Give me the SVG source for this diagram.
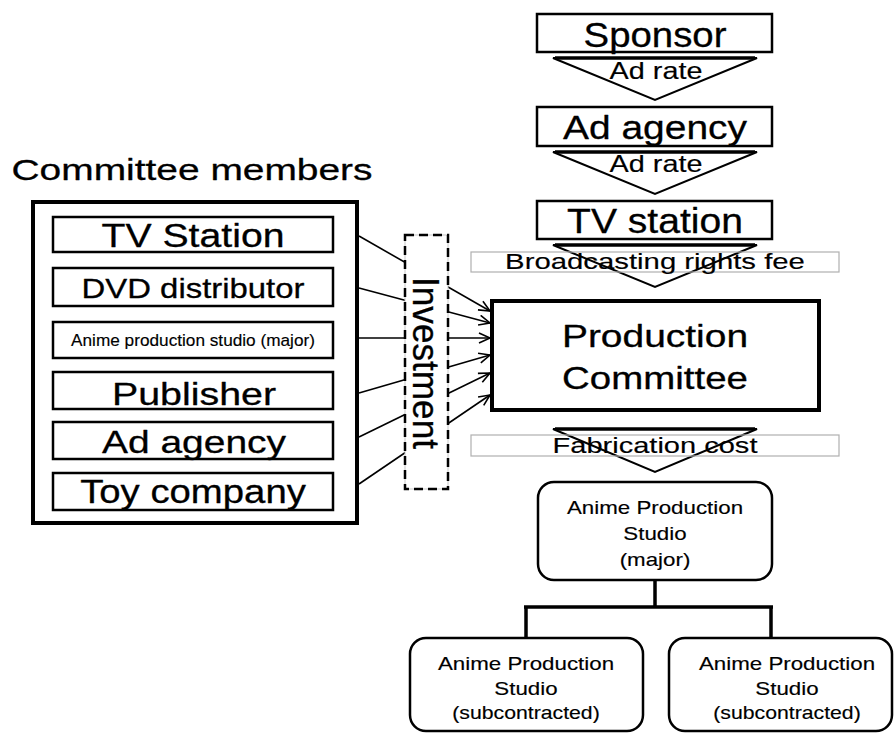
<svg xmlns="http://www.w3.org/2000/svg" width="894" height="733" viewBox="0 0 894 733">
<style>
text{font-family:"Liberation Sans",Arial,sans-serif;fill:#000;text-anchor:middle;stroke:#000;stroke-width:0.3;stroke-linejoin:round}
.sm{stroke-width:0.15}
.box{fill:#fff;stroke:#000;stroke-width:2.5}
.thick{fill:#fff;stroke:#000;stroke-width:4}
.rbox{fill:#fff;stroke:#000;stroke-width:2.5}
.tri{fill:#fff;stroke:#000;stroke-width:2;stroke-linejoin:miter}
.triTop{stroke:#000;stroke-width:3.5}
.grey{fill:none;stroke:#b0b0b0;stroke-width:1.2}
.conn{stroke:#000;stroke-width:1.6;fill:none}
.org{stroke:#000;stroke-width:3.5;fill:none}
.st{font-size:18px;stroke-width:0.15}
</style>
<defs>
<marker id="arr" markerUnits="userSpaceOnUse" markerWidth="14" markerHeight="12" refX="12" refY="6" orient="auto" viewBox="0 0 14 12">
<path d="M1,1 L12,6 L1,11" fill="none" stroke="#000" stroke-width="1.6"/>
</marker>
</defs>
<rect width="894" height="733" fill="#fff"/>

<!-- Top chain -->
<g id="sponsor">
<rect class="box" x="537" y="14" width="235" height="38"/>
<text transform="translate(655,47) scale(1.097,1)" font-size="35">Sponsor</text>
</g>
<g id="adrate1">
<polygon class="tri" points="553,58 757,58 655,100"/>
<line class="triTop" x1="555" y1="58" x2="755" y2="58"/>
<text class="sm" transform="translate(656,79) scale(1.254,1)" font-size="23">Ad rate</text>
</g>
<g id="adagency-top">
<rect class="box" x="537" y="107" width="235" height="39"/>
<text transform="translate(655,139) scale(1.145,1)" font-size="34">Ad agency</text>
</g>
<g id="adrate2">
<polygon class="tri" points="553,152 757,152 655,194"/>
<line class="triTop" x1="555" y1="152" x2="755" y2="152"/>
<text class="sm" transform="translate(656,172) scale(1.254,1)" font-size="23">Ad rate</text>
</g>
<g id="tvstation-top">
<rect class="box" x="537" y="201" width="235" height="38"/>
<text transform="translate(655,233) scale(1.117,1)" font-size="35">TV station</text>
</g>
<g id="broadcasting">
<polygon class="tri" points="553,245 757,245 655,287"/>
<line class="triTop" x1="555" y1="245" x2="755" y2="245"/>
<rect class="grey" x="471" y="252" width="368" height="20"/>
<text class="sm" transform="translate(655,269) scale(1.333,1)" font-size="22">Broadcasting rights fee</text>
</g>

<!-- Committee members -->
<text transform="translate(192,180) scale(1.297,1)" font-size="30">Committee members</text>
<g id="committee-members">
<rect class="thick" x="33" y="202" width="324" height="321"/>
</g>
<g id="m-tv">
<rect class="box" x="53" y="217" width="280" height="35"/>
<text transform="translate(193,247) scale(1.153,1)" font-size="34">TV Station</text>
</g>
<g id="m-dvd">
<rect class="box" x="53" y="268" width="280" height="38"/>
<text transform="translate(193,298) scale(1.175,1)" font-size="28">DVD distributor</text>
</g>
<g id="m-anime">
<rect class="box" x="53" y="322" width="280" height="36"/>
<text class="sm" transform="translate(193,346) scale(1.076,1)" font-size="16">Anime production studio (major)</text>
</g>
<g id="m-publisher">
<rect class="box" x="53" y="372" width="280" height="37"/>
<text transform="translate(194,405) scale(1.23,1)" font-size="32">Publisher</text>
</g>
<g id="m-adagency">
<rect class="box" x="53" y="422" width="280" height="37"/>
<text transform="translate(194,453) scale(1.217,1)" font-size="32">Ad agency</text>
</g>
<g id="m-toy">
<rect class="box" x="53" y="473" width="280" height="37"/>
<text transform="translate(193,503) scale(1.161,1)" font-size="33">Toy company</text>
</g>

<!-- Connectors -->
<g id="connectors">
<line class="conn" x1="359" y1="236" x2="490" y2="311" marker-end="url(#arr)"/>
<line class="conn" x1="359" y1="288" x2="490" y2="323" marker-end="url(#arr)"/>
<line class="conn" x1="359" y1="338" x2="490" y2="338" marker-end="url(#arr)"/>
<line class="conn" x1="359" y1="393" x2="490" y2="355" marker-end="url(#arr)"/>
<line class="conn" x1="359" y1="437" x2="490" y2="373" marker-end="url(#arr)"/>
<line class="conn" x1="359" y1="484" x2="490" y2="395" marker-end="url(#arr)"/>
<path class="org" d="M655,580 V607 M524,607 H773 M526,607 V638 M771,607 V638"/>
</g>

<!-- Investment -->
<g id="investment">
<rect x="405" y="235" width="43" height="254" fill="#fff" stroke="#c8c8c8" stroke-width="1"/>
<rect x="405" y="235" width="43" height="254" fill="none" stroke="#000" stroke-width="2.5" stroke-dasharray="9,5"/>
<text transform="translate(413,363) rotate(90) scale(0.95,1)" font-size="37">Investment</text>
</g>

<!-- Production committee -->
<g id="production-committee">
<rect class="thick" x="492" y="301" width="327" height="109"/>
<text transform="translate(655,347) scale(1.256,1)" font-size="31">Production</text>
<text transform="translate(655,389) scale(1.24,1)" font-size="31">Committee</text>
</g>

<g id="fabrication">
<polygon class="tri" points="553,429 757,429 655,472"/>
<line class="triTop" x1="555" y1="429" x2="755" y2="429"/>
<rect class="grey" x="471" y="435" width="368" height="21"/>
<text class="sm" transform="translate(655,453) scale(1.32,1)" font-size="22">Fabrication cost</text>
</g>

<g id="studio-major">
<rect class="rbox" x="538" y="482" width="234" height="98" rx="16"/>
<text class="st" transform="translate(655,514) scale(1.24,1)">Anime Production</text>
<text class="st" transform="translate(655,540) scale(1.24,1)">Studio</text>
<text class="st" transform="translate(655,566) scale(1.24,1)">(major)</text>
</g>
<g id="studio-sub1">
<rect class="rbox" x="410" y="638" width="233" height="93" rx="16"/>
<text class="st" transform="translate(526,670) scale(1.24,1)">Anime Production</text>
<text class="st" transform="translate(526,695) scale(1.24,1)">Studio</text>
<text class="st" transform="translate(526,719) scale(1.18,1)">(subcontracted)</text>
</g>
<g id="studio-sub2">
<rect class="rbox" x="669" y="638" width="223" height="93" rx="16"/>
<text class="st" transform="translate(787,670) scale(1.24,1)">Anime Production</text>
<text class="st" transform="translate(787,695) scale(1.24,1)">Studio</text>
<text class="st" transform="translate(787,719) scale(1.18,1)">(subcontracted)</text>
</g>
</svg>
